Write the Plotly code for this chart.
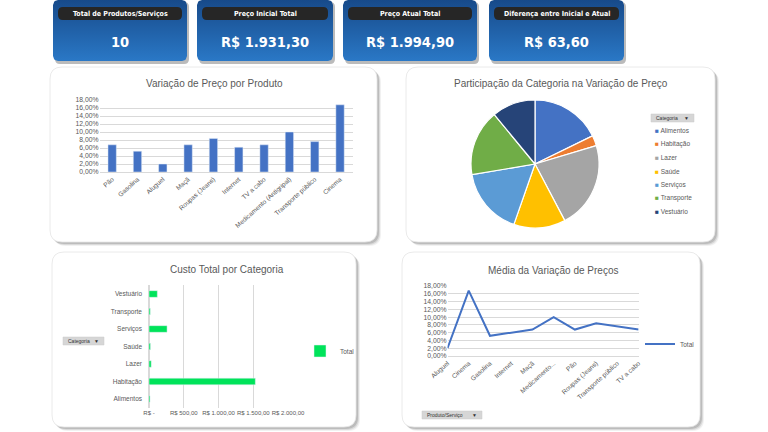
import numpy as np
import plotly.graph_objects as go

W, H = 768, 432

# ---------------- DATA ----------------
kpi_titles = ["Total de Produtos/Serviços", "Preço Inicial Total", "Preço Atual Total", "Diferença entre Inicial e Atual"]
kpi_values = ["10", "R$ 1.931,30", "R$ 1.994,90", "R$ 63,60"]

produtos = ["Pão", "Gasolina", "Aluguel", "Maçã", "Roupas (Jeans)", "Internet", "TV a cabo",
            "Medicamento (Antigripal)", "Transporte público", "Cinema"]
variacao = [0.068, 0.052, 0.020, 0.068, 0.084, 0.062, 0.068, 0.100, 0.076, 0.168]

pie_categorias = ["Alimentos", "Habitação", "Lazer", "Saúde", "Serviços", "Transporte", "Vestuário"]
pie_valores = [0.136, 0.020, 0.168, 0.100, 0.130, 0.128, 0.084]
pie_cores = ["#4472C4", "#ED7D31", "#A5A5A5", "#FFC000", "#5B9BD5", "#70AD47", "#264478"]

custo_categorias = ["Alimentos", "Habitação", "Lazer", "Saúde", "Serviços", "Transporte", "Vestuário"]
custo_total = [15, 1530, 32, 21, 260, 18, 120]
custo_ticks = [0, 500, 1000, 1500, 2000]
custo_ticktext = ["R$ -", "R$ 500,00", "R$ 1.000,00", "R$ 1.500,00", "R$ 2.000,00"]

media_produtos = ["Aluguel", "Cinema", "Gasolina", "Internet", "Maçã", "Medicamento (Antigripal)",
                  "Pão", "Roupas (Jeans)", "Transporte público", "TV a cabo"]
media_variacao = [0.020, 0.168, 0.052, 0.060, 0.068, 0.100, 0.068, 0.084, 0.076, 0.068]

# ---------------- helpers ----------------
def X(px):
    return px / W

def Y(py):
    return 1 - py / H

def rr_path(x0, y0, x1, y1, r):
    rx, ry = r / W, r / H
    a, b, c, d = X(x0), Y(y0), X(x1), Y(y1)  # b top, d bottom (paper)
    return (f"M{a+rx},{b} L{c-rx},{b} Q{c},{b} {c},{b-ry} L{c},{d+ry} Q{c},{d} {c-rx},{d} "
            f"L{a+rx},{d} Q{a},{d} {a},{d+ry} L{a},{b-ry} Q{a},{b} {a+rx},{b} Z")

def rr_points(x0, y0, x1, y1, r, n=8):
    pts = []
    corners = [(x1 - r, y0 + r, -90, 0), (x1 - r, y1 - r, 0, 90), (x0 + r, y1 - r, 90, 180), (x0 + r, y0 + r, 180, 270)]
    for cx, cy, a0, a1 in corners:
        for t in np.linspace(np.radians(a0), np.radians(a1), n):
            pts.append((cx + r * np.cos(t), H - (cy + r * np.sin(t))))
    pts.append(pts[0])
    xs, ys = zip(*pts)
    return list(xs), list(ys)

def ann(px, py, text, size, color, family, xanchor="center", yanchor="middle"):
    return dict(x=X(px), y=Y(py), xref="paper", yref="paper", text=text, showarrow=False,
                xanchor=xanchor, yanchor=yanchor, font=dict(family=family, size=size, color=color))

def pshape(path, fill, line=None, layer="below"):
    return dict(type="path", path=path, xref="paper", yref="paper", fillcolor=fill,
                line=line or dict(width=0), layer=layer)

shapes = []
annotations = []
GRAY = "#595959"
FONT = "Liberation Sans, Arial, sans-serif"
NARROW = "DejaVu Sans Condensed, Liberation Sans Narrow, Arial Narrow, sans-serif"

# ---------------- panels ----------------
panels = [(50, 67, 377, 242), (406, 67, 715, 242), (52, 252, 356, 427), (402, 252, 700, 427)]
for (x0, y0, x1, y1) in panels:
    for off, op in [(4, 0.08), (3, 0.14), (2, 0.22)]:
        shapes.append(pshape(rr_path(x0 + off, y0 + off, x1 + off, y1 + off, 12), f"rgba(80,80,80,{op})"))
    shapes.append(pshape(rr_path(x0, y0, x1, y1, 12), "white", dict(color="#e4e4e4", width=0.8)))

fig = go.Figure()

# ---------------- KPI cards ----------------
cards = [(53, 187), (197, 333), (343, 477), (489, 624)]
for i, (x0, x1) in enumerate(cards):
    y0, y1 = 0, 61
    shapes.append(pshape(rr_path(x0 + 2, y0 + 2, x1 + 2, y1 + 3, 5), "rgba(60,60,60,0.35)"))
    xs, ys = rr_points(x0, y0, x1, y1, 5)
    fig.add_trace(go.Scatter(x=xs, y=ys, mode="lines", fill="toself", line=dict(width=0),
                             fillgradient=dict(type="vertical", colorscale=[[0, "#2a78c6"], [1, "#174a8a"]]),
                             xaxis="x5", yaxis="y5", hoverinfo="skip", showlegend=False))
    shapes.append(pshape(rr_path(x0 + 5, 7, x1 - 5, 20, 5), "#262626", layer="above"))
    annotations.append(ann((x0 + x1) / 2, 13.5, f"<b>{kpi_titles[i]}</b>", 7, "white", NARROW))
    annotations.append(ann((x0 + x1) / 2, 42, f"<b>{kpi_values[i]}</b>", 14.5, "white", NARROW))

# ---------------- chart 1: bar ----------------
fig.add_trace(go.Bar(x=produtos, y=variacao, marker_color="#4472C4", width=0.33,
                     xaxis="x", yaxis="y", showlegend=False))
annotations.append(ann(214, 84, "Variação de Preço por Produto", 10, GRAY, FONT))

# ---------------- chart 2: pie ----------------
fig.add_trace(go.Pie(labels=pie_categorias, values=pie_valores,
                     marker=dict(colors=pie_cores, line=dict(color="white", width=1.2)),
                     sort=False, direction="clockwise", rotation=0, textinfo="none",
                     domain=dict(x=[X(470), X(600)], y=[Y(228), Y(100)]), showlegend=False))
annotations.append(ann(561, 84, "Participação da Categoria na Variação de Preço", 10, GRAY, FONT))
for i, (lab, col) in enumerate(zip(pie_categorias, pie_cores)):
    annotations.append(ann(653, 131 + i * 13.4, f"<span style='color:{col}'>■</span> {lab}", 6.5, GRAY, FONT,
                           xanchor="left"))

# ---------------- chart 3: horizontal bar ----------------
fig.add_trace(go.Bar(y=custo_categorias, x=custo_total, orientation="h", marker_color="#00E35A", width=0.38,
                     name="Total", xaxis="x3", yaxis="y3", legend="legend2"))
annotations.append(ann(227, 269, "Custo Total por Categoria", 10, GRAY, FONT))

# ---------------- chart 4: line ----------------
fig.add_trace(go.Scatter(x=media_produtos, y=media_variacao, mode="lines", line=dict(color="#4472C4", width=2),
                         name="Total", xaxis="x4", yaxis="y4", legend="legend3"))
annotations.append(ann(553, 270, "Média da Variação de Preços", 10, GRAY, FONT))

# ---------------- dropdown buttons ----------------
for (x0, y0, x1, y1, txt) in [(651, 114, 694, 122, "Categoria"), (63, 337, 104, 345, "Categoria"),
                              (422, 411, 482, 419, "Produto/Serviço")]:
    shapes.append(dict(type="rect", x0=X(x0), x1=X(x1), y0=Y(y1), y1=Y(y0), xref="paper", yref="paper",
                       fillcolor="#d6d6d6", line=dict(color="#c8c8c8", width=0.5)))
    annotations.append(ann(x0 + 3, (y0 + y1) / 2, txt, 5, "#333333", FONT, xanchor="left"))
    annotations.append(ann(x1 - 3, (y0 + y1) / 2, "▼", 5, "#333333", FONT, xanchor="right"))

tickfont = dict(family=FONT, size=6.5, color=GRAY)
pctfont = dict(family=FONT, size=6.8, color=GRAY)
grid = "#d9d9d9"

line_ticktext = [c if len(c) < 20 else c[:11] + "..." for c in media_produtos]

fig.update_layout(
    width=W, height=H, margin=dict(l=0, r=0, t=0, b=0, autoexpand=False),
    paper_bgcolor="white", plot_bgcolor="rgba(0,0,0,0)",
    separators=",.", shapes=shapes, annotations=annotations,
    xaxis=dict(domain=[X(99.5), X(352.7)], anchor="y", tickangle=-42, tickfont=tickfont, showgrid=False,
               showline=True, linecolor=grid, linewidth=1, ticks="", automargin=False),
    yaxis=dict(domain=[Y(172), Y(100)], anchor="x", range=[0, 0.18], dtick=0.02, tickformat=".2%",
               tickfont=pctfont, gridcolor=grid, gridwidth=1, zeroline=False, ticks="", automargin=False),
    xaxis3=dict(domain=[X(149), X(288)], anchor="y3", range=[0, 2000], tickvals=custo_ticks, ticktext=custo_ticktext,
                tickangle=0, tickfont=dict(family=FONT, size=6, color=GRAY), gridcolor=grid, showline=False,
                zeroline=True, zerolinecolor=grid, ticks="", automargin=False),
    yaxis3=dict(domain=[Y(407.75), Y(285.25)], anchor="x3", tickfont=dict(family=FONT, size=6.5, color=GRAY),
                showgrid=False, ticks="", ticklabelstandoff=6, automargin=False),
    xaxis4=dict(domain=[X(447.5), X(638.6)], anchor="y4", tickangle=-42, tickfont=tickfont, showgrid=False,
                tickvals=media_produtos, ticktext=line_ticktext, showline=True, linecolor=grid, ticks="",
                automargin=False),
    yaxis4=dict(domain=[Y(356), Y(286)], anchor="x4", range=[0, 0.18], dtick=0.02, tickformat=".2%",
                tickfont=pctfont, gridcolor=grid, zeroline=False, ticks="", automargin=False),
    xaxis5=dict(domain=[0, 1], anchor="y5", range=[0, W], visible=False, automargin=False),
    yaxis5=dict(domain=[0, 1], anchor="x5", range=[0, H], visible=False, automargin=False),
    legend2=dict(x=X(300), y=Y(351), xanchor="left", yanchor="middle", bgcolor="rgba(0,0,0,0)",
                 font=dict(family=FONT, size=6.5, color=GRAY), itemwidth=30),
    legend3=dict(x=X(640), y=Y(344), xanchor="left", yanchor="middle", bgcolor="rgba(0,0,0,0)",
                 font=dict(family=FONT, size=6.5, color=GRAY), itemwidth=30),
    showlegend=True,
)

fig.write_html("out.html", config={"displayModeBar": False},
               post_script="document.body.style.margin='0';")
